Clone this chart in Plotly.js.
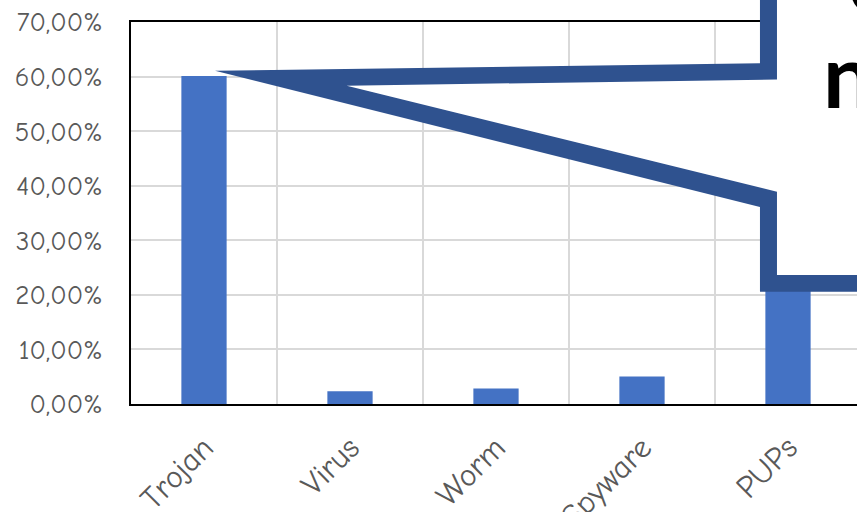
<!DOCTYPE html>
<html><head><meta charset="utf-8">
<script src="https://cdn.plot.ly/plotly-3.0.1.min.js"></script>
<style>html,body{margin:0;padding:0;overflow:hidden;background:#fff}</style>
</head><body><div id="chart"></div>
<script>
// ---- data ----
const categories = ['Trojan', 'Virus', 'Worm', 'Spyware', 'PUPs'];
const shares = [0.601, 0.0235, 0.0285, 0.0505, 0.22];
const yTickVals = [0, 0.1, 0.2, 0.3, 0.4, 0.5, 0.6, 0.7];
const calloutLines = ['o', 'n'];

// ---- layout geometry (pixels) ----
const FIG_W = 900, FIG_H = 512;
const M = {l: 131, r: 39, t: 22, b: 108};
const plotW = FIG_W - M.l - M.r, plotH = FIG_H - M.t - M.b;
const px = x => (x - M.l) / plotW;
const py = y => (FIG_H - M.b - y) / plotH;
const toPath = pts => 'M ' + pts.map(p => px(p[0]).toFixed(4) + ',' + py(p[1]).toFixed(4)).join(' L ') + ' Z';

const outer = [[760,-20],[760,63.3],[215,70.7],[760,207],[760,291.7],[920,291.7],[920,-20]];
const inner = [[777,-20],[777,79.5],[346.7,85.7],[777,191.7],[777,275],[920,275],[920,-20]];

const font = '"Comic Sans MS", "Comic Neue", Lato, sans-serif';
const calloutFont = 'Lato, sans-serif';

const trace = {
  type: 'bar',
  x: categories,
  y: shares,
  marker: {color: '#4472C4'},
  hoverinfo: 'skip'
};

const layout = {
  width: FIG_W, height: FIG_H,
  margin: M,
  paper_bgcolor: '#fff', plot_bgcolor: '#fff',
  separators: ',.',
  showlegend: false,
  bargap: 0.69,
  font: {family: font, color: '#595959', size: 27},
  xaxis: {
    type: 'category',
    tickson: 'boundaries',
    showgrid: true, gridcolor: '#D9D9D9', gridwidth: 2,
    showline: true, linecolor: '#000', linewidth: 2, mirror: true,
    ticks: '',
    ticklabelstandoff: 10,
    tickangle: -45,
    tickfont: {family: font, size: 32, color: '#595959'},
    range: [-0.5, 4.5]
  },
  yaxis: {
    range: [0, 0.7],
    tickvals: yTickVals,
    tickformat: '.2%',
    showgrid: true, gridcolor: '#D9D9D9', gridwidth: 2,
    zeroline: false,
    showline: true, linecolor: '#000', linewidth: 2, mirror: true,
    ticks: 'outside', ticklen: 21, tickcolor: 'rgba(0,0,0,0)',
    tickfont: {family: font, size: 27, color: '#595959'}
  },
  shapes: [
    {type: 'path', xref: 'paper', yref: 'paper', path: toPath(outer), fillcolor: '#2F528F', line: {width: 0}, layer: 'above'},
    {type: 'path', xref: 'paper', yref: 'paper', path: toPath(inner), fillcolor: '#FFFFFF', line: {width: 0}, layer: 'above'}
  ],
  annotations: [
    {xref: 'paper', yref: 'paper', x: px(846), y: py(-21), xanchor: 'left', yanchor: 'middle',
     text: calloutLines[0], showarrow: false, font: {family: calloutFont, size: 88, color: '#000', weight: 'bold'}},
    {xref: 'paper', yref: 'paper', x: px(821), y: py(74), xanchor: 'left', yanchor: 'middle',
     text: calloutLines[1], showarrow: false, font: {family: calloutFont, size: 88, color: '#000', weight: 'bold'}}
  ]
};

Plotly.newPlot('chart', [trace], layout, {displayModeBar: false, staticPlot: true});
</script>
</body></html>
